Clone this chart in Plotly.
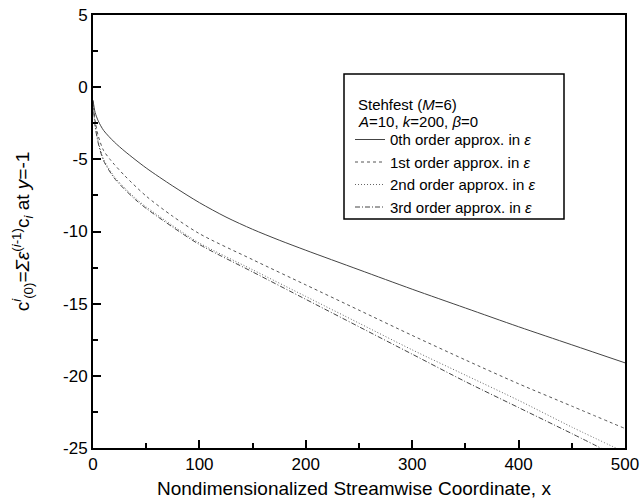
import plotly.graph_objects as go

# ---- data ----
x0 = [0, 2, 5, 10, 20, 30, 50, 75, 100, 125, 150, 175, 200, 250, 300, 350, 400, 450, 500]
y_0th = [-0.9, -1.75, -2.35, -3.0, -3.8, -4.45, -5.6, -6.85, -8.0, -9.0, -9.85, -10.6, -11.3, -12.65, -14.0, -15.3, -16.6, -17.85, -19.1]

x1 = [0, 2, 5, 10, 16, 20, 30, 50, 75, 100, 150, 200, 250, 300, 350, 400, 450, 500]
y_1st = [-1.0, -2.3, -3.4, -4.4, -5.0, -5.35, -6.15, -7.55, -8.95, -10.15, -11.95, -13.7, -15.45, -17.2, -18.9, -20.55, -22.1, -23.65]

x2 = [0, 2, 5, 10, 20, 30, 40, 50, 75, 100, 150, 200, 250, 300, 350, 400, 450, 500]
y_2nd = [-1.0, -2.6, -3.8, -5.0, -6.2, -7.0, -7.7, -8.3, -9.6, -10.8, -12.65, -14.5, -16.35, -18.2, -19.95, -21.7, -23.55, -25.3]

x3 = [0, 2, 5, 10, 20, 30, 40, 50, 75, 100, 150, 200, 250, 300, 350, 400, 450, 500]
y_3rd = [-1.0, -2.7, -3.9, -5.1, -6.3, -7.1, -7.8, -8.4, -9.7, -10.9, -12.8, -14.7, -16.6, -18.5, -20.4, -22.2, -24.0, -25.85]

names = ["0th order approx. in <i>ε</i>", "1st order approx. in <i>ε</i>",
         "2nd order approx. in <i>ε</i>", "3rd order approx. in <i>ε</i>"]

x_ticks = [0, 100, 200, 300, 400, 500]
y_ticks = [5, 0, -5, -10, -15, -20, -25]

FONT = "Arial, Liberation Sans, sans-serif"

# plot-area pixel geometry (used only to place the legend frame / header)
L, R, T, B = 93, 625, 15, 448
W, H = R - L, B - T

fig = go.Figure()
styles = [
    dict(color="#444", width=1, dash="solid"),
    dict(color="#555", width=1, dash="3px,3px"),
    dict(color="#666", width=1, dash="1px,2px"),
    dict(color="#444", width=1, dash="5px,2px,1px,2px"),
]
for xs, ys, nm, st in zip([x0, x1, x2, x3], [y_0th, y_1st, y_2nd, y_3rd], names, styles):
    fig.add_trace(go.Scatter(x=xs, y=ys, mode="lines", name=nm, line=st,
                             line_shape="spline", line_smoothing=0.8))

fig.update_layout(
    width=643, height=502,
    margin=dict(l=L, r=643 - R, t=T, b=502 - B),
    plot_bgcolor="white", paper_bgcolor="white",
    font=dict(family=FONT, size=16, color="black"),
    showlegend=True,
    legend=dict(x=(350 - L) / W, y=0.75, xanchor="left", yanchor="top",
                bgcolor="rgba(0,0,0,0)", borderwidth=0,
                font=dict(size=15, family=FONT), tracegroupgap=0),
    xaxis=dict(range=[0, 500], tickvals=x_ticks, ticktext=[str(v) for v in x_ticks],
               ticks="inside", ticklen=8, tickwidth=2, tickcolor="black",
               ticklabeloverflow="allow",
               minor=dict(dtick=50, ticks="inside", ticklen=5, tickwidth=1.5, tickcolor="black"),
               showline=True, linewidth=2, linecolor="black", mirror=True,
               showgrid=False, zeroline=False,
               tickfont=dict(size=17)),
    yaxis=dict(range=[-25, 5], tickvals=y_ticks, ticktext=[str(v) for v in y_ticks],
               ticks="inside", ticklen=8, tickwidth=2, tickcolor="black",
               ticklabeloverflow="allow",
               minor=dict(dtick=2.5, ticks="inside", ticklen=5, tickwidth=1.5, tickcolor="black"),
               showline=True, linewidth=2, linecolor="black", mirror=True,
               showgrid=False, zeroline=False,
               tickfont=dict(size=17),
               title=dict(text="c<sup><i>i</i></sup><sub>(0)</sub>=<i>Σε</i><sup>(<i>i</i>-1)</sup>c<sub><i>i</i></sub> at <i>y</i>=-1",
                          font=dict(size=19), standoff=28)),
)
fig.update_xaxes(automargin=False)
fig.update_yaxes(automargin=False)

# x-axis title placed explicitly so it fits inside the page
fig.add_annotation(xref="paper", yref="paper", x=0.49, y=(B - 488) / H,
                   xanchor="center", yanchor="middle", showarrow=False,
                   text="Nondimensionalized Streamwise Coordinate, x", font=dict(size=19))

# legend frame and header text
fig.add_shape(type="rect", xref="paper", yref="paper",
              x0=(344 - L) / W, x1=(564 - L) / W,
              y0=(B - 219) / H, y1=(B - 74) / H,
              line=dict(color="black", width=1.5), fillcolor="rgba(0,0,0,0)")
fig.add_annotation(xref="paper", yref="paper", x=(356 - L) / W, y=(B - 105) / H,
                   xanchor="left", yanchor="middle", showarrow=False,
                   text="Stehfest (<i>M</i>=6)", font=dict(size=15))
fig.add_annotation(xref="paper", yref="paper", x=(356 - L) / W, y=(B - 122) / H,
                   xanchor="left", yanchor="middle", showarrow=False,
                   text="<i>A</i>=10, <i>k</i>=200, <i>β</i>=0", font=dict(size=15))

fig.write_html("out.html", config={"displayModeBar": False},
               post_script="document.body.style.margin='0';")
